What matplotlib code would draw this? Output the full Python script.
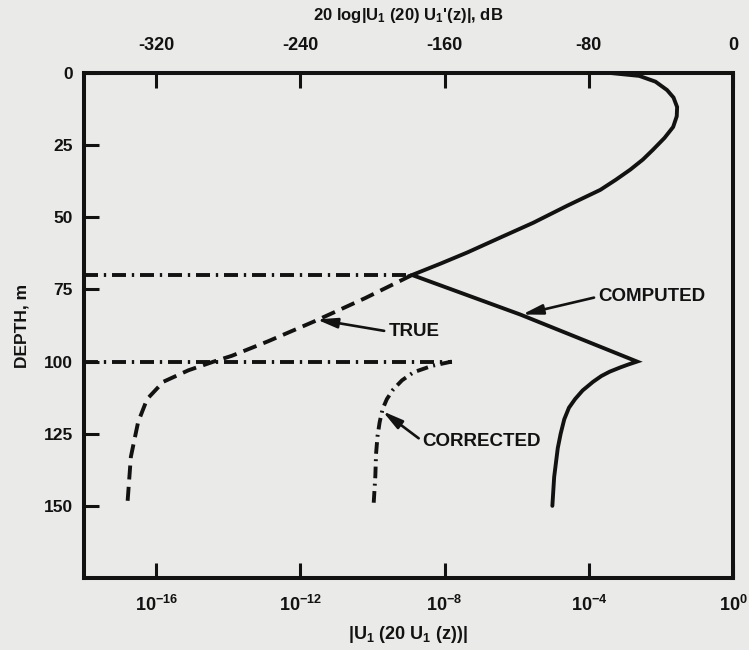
import matplotlib
matplotlib.use("Agg")
import matplotlib.pyplot as plt
import numpy as np

# ---------------- data (log10 |U1(20) U1(z)| vs depth) ----------------
computed_depth = [0, 1, 3, 5.9, 8.5, 11.8, 15, 18.7, 22.5, 26.6, 30, 33.5, 37, 40.5,
                  46, 51.9, 57, 62.2, 66, 70, 83.7, 100,
                  101, 102, 103.5, 105, 107, 110, 113, 116, 120, 125, 130, 140, 150]
computed_log = [-3.4, -2.6, -2.15, -1.83, -1.65, -1.55, -1.56, -1.66, -1.9, -2.22, -2.5, -2.85, -3.25, -3.68,
                -4.6, -5.54, -6.45, -7.37, -8.1, -8.9, -5.9, -2.66,
                -2.9, -3.12, -3.42, -3.65, -3.88, -4.17, -4.38, -4.55, -4.68, -4.78, -4.86, -4.96, -5.01]

true_depth = [70, 78, 86, 93, 98, 100, 103, 107, 113, 121, 133, 150]
true_log = [-8.9, -10.2, -11.6, -12.9, -13.9, -14.4, -15.1, -15.8, -16.25, -16.5, -16.7, -16.8]

corrected_depth = [100, 101.5, 103.7, 106.5, 109.6, 113, 116.5, 121, 125.9, 132, 139.7, 150]
corrected_log = [-7.8, -8.35, -8.86, -9.18, -9.42, -9.6, -9.72, -9.8, -9.86, -9.9, -9.92, -9.97]

interface_depths = [70, 100]
interface_right_log = [-8.9, -7.8]

ylim_depth = (0, 175)
xlim_log = (-18, 0)
bottom_tick_exp = [-16, -12, -8, -4, 0]
top_tick_labels = ["-320", "-240", "-160", "-80", "0"]
depth_ticks = [0, 25, 50, 75, 100, 125, 150]

# ---------------- style ----------------
BG = "#eaeae8"
INK = "#121212"
plt.rcParams["font.family"] = ["Liberation Sans", "DejaVu Sans"]
plt.rcParams["font.weight"] = "bold"
plt.rcParams["mathtext.default"] = "regular"

fig = plt.figure(figsize=(7.49, 6.5), dpi=100, facecolor=BG)
ax = fig.add_axes([84 / 749, 1 - 578 / 650, (733 - 84) / 749, (578 - 73) / 650])
ax.set_facecolor(BG)

X = lambda arr: [10.0 ** v for v in arr]

lw = 2.8
ax.plot(X(computed_log), computed_depth, color=INK, lw=lw, solid_capstyle="round",
        solid_joinstyle="miter")
ax.plot(X(true_log), true_depth, color=INK, lw=lw, linestyle=(0, (3.6, 1.9)),
        dash_capstyle="butt")
ax.plot(X(corrected_log), corrected_depth, color=INK, lw=lw,
        linestyle=(0, (3.0, 1.4, 0.5, 1.4)), dash_capstyle="butt")
for d, r in zip(interface_depths, interface_right_log):
    ax.plot([10.0 ** xlim_log[0], 10.0 ** r], [d, d], color=INK, lw=lw,
            linestyle=(0, (3.6, 1.5, 0.6, 1.5)), dash_capstyle="butt")

ax.set_xscale("log")
ax.set_xlim(10.0 ** xlim_log[0], 10.0 ** xlim_log[1])
ax.set_ylim(ylim_depth[1], ylim_depth[0])

for s in ax.spines.values():
    s.set_linewidth(2.9)
    s.set_color(INK)

ax.set_xticks([10.0 ** e for e in bottom_tick_exp])
ax.set_xticklabels([r"$10^{%d}$" % e for e in bottom_tick_exp])
ax.xaxis.set_minor_locator(matplotlib.ticker.NullLocator())
ax.set_yticks(depth_ticks)
ax.set_yticklabels([str(d) for d in depth_ticks])
ax.tick_params(axis="x", direction="in", length=11, width=2.2, pad=12,
               labelsize=13, colors=INK)
ax.tick_params(axis="y", direction="in", length=11, width=2.2, pad=8,
               labelsize=12.5, colors=INK, right=False)
ax.set_xlabel(r"|U$_1$ (20 U$_1$ (z))|", fontsize=13, fontweight="bold",
              color=INK, labelpad=7)
ax.set_ylabel("DEPTH, m", fontsize=12.5, fontweight="bold", color=INK, labelpad=10)

ax2 = ax.twiny()
ax2.set_xscale("log")
ax2.set_xlim(ax.get_xlim())
ax2.set_xticks([10.0 ** e for e in bottom_tick_exp])
ax2.set_xticklabels(top_tick_labels)
ax2.xaxis.set_minor_locator(matplotlib.ticker.NullLocator())
ax2.tick_params(axis="x", direction="in", length=11, width=2.2, pad=14,
                labelsize=13, colors=INK)
ax2.set_xlabel(r"20 log|U$_1$ (20) U$_1$'(z)|, dB", fontsize=12,
               fontweight="bold", color=INK, labelpad=12)
for s in ax2.spines.values():
    s.set_visible(False)

# ---------------- annotations ----------------
arrow = dict(arrowstyle="-|>,head_length=0.9,head_width=0.22", color=INK, lw=1.9,
             shrinkA=1, shrinkB=0)
ax.annotate("COMPUTED", xy=(10 ** -5.85, 83.7), xytext=(10 ** -3.74, 77.5),
            fontsize=13.5, fontweight="bold", color=INK, ha="left", va="center",
            arrowprops=dict(arrow, relpos=(0, 0.5)))
ax.annotate("TRUE", xy=(10 ** -11.55, 85.4), xytext=(10 ** -9.56, 89.6),
            fontsize=13.5, fontweight="bold", color=INK, ha="left", va="center",
            arrowprops=dict(arrow, relpos=(0, 0.5)))
ax.annotate("CORRECTED", xy=(10 ** -9.72, 117.2), xytext=(10 ** -8.61, 127.6),
            fontsize=13.5, fontweight="bold", color=INK, ha="left", va="center",
            arrowprops=dict(arrow, relpos=(0, 0.5)))

fig.savefig("out.png", dpi=100, facecolor=BG)
